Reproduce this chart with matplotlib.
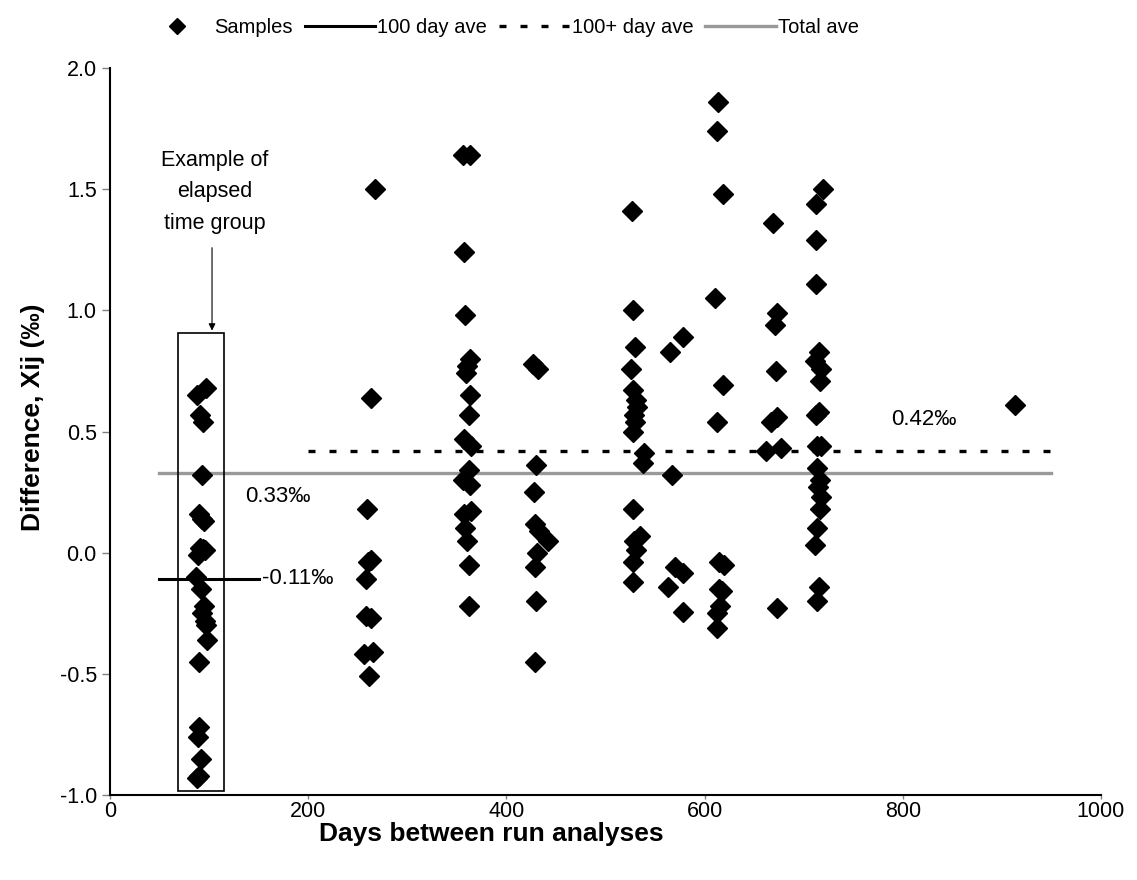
import matplotlib.pyplot as plt
from matplotlib.patches import Rectangle

plt.rcParams['font.family'] = ['Liberation Sans', 'DejaVu Sans']

# Elapsed-time groups (days between runs, difference in permil)
days_100 = [88, 97, 91, 94, 93, 90, 93, 95, 91, 94, 96, 89, 87, 92, 95, 93, 96, 97, 98, 90, 90, 89, 92, 88, 90]
diff_100 = [0.65, 0.68, 0.57, 0.54, 0.32, 0.16, 0.14, 0.13, 0.02, 0.015, 0.01, -0.01, -0.10, -0.15,
            -0.22, -0.25, -0.28, -0.30, -0.36, -0.45, -0.72, -0.76, -0.85, -0.93, -0.92]

days_262 = [267, 263, 259, 263, 260, 258, 258, 263, 265, 256, 261]
diff_262 = [1.50, 0.64, 0.18, -0.03, -0.04, -0.11, -0.26, -0.27, -0.41, -0.42, -0.51]

days_363 = [356, 363, 357, 358, 363, 360, 359, 363, 362, 357, 364, 362, 356, 363, 364, 357, 358, 360, 362, 362]
diff_363 = [1.64, 1.64, 1.24, 0.98, 0.80, 0.77, 0.74, 0.65, 0.57, 0.47, 0.44, 0.34, 0.30, 0.28,
            0.17, 0.16, 0.10, 0.05, -0.05, -0.22]

days_430 = [427, 432, 430, 428, 429, 433, 442, 431, 429, 430, 429]
diff_430 = [0.78, 0.76, 0.36, 0.25, 0.12, 0.09, 0.05, 0.00, -0.06, -0.20, -0.45]

days_528 = [527, 528, 530, 526, 528, 531, 532, 529, 530, 528, 539, 538, 528, 535, 529, 531, 528, 528]
diff_528 = [1.41, 1.00, 0.85, 0.76, 0.67, 0.63, 0.60, 0.57, 0.54, 0.50, 0.41, 0.37, 0.18, 0.07,
            0.05, 0.01, -0.04, -0.12]

days_570 = [578, 565, 567, 570, 578, 563, 578]
diff_570 = [0.89, 0.83, 0.32, -0.06, -0.085, -0.14, -0.245]

days_615 = [614, 613, 619, 611, 619, 613, 615, 620, 615, 618, 616, 613, 613]
diff_615 = [1.86, 1.74, 1.48, 1.05, 0.69, 0.54, -0.04, -0.05, -0.15, -0.16, -0.22, -0.25, -0.31]

days_672 = [669, 673, 671, 672, 673, 667, 677, 662, 673]
diff_672 = [1.36, 0.99, 0.94, 0.75, 0.56, 0.54, 0.43, 0.42, -0.23]

days_715 = [720, 712, 712, 712, 715, 711, 718, 716, 715, 712, 713, 718, 713, 716, 714, 717, 716, 713, 711, 715, 713]
diff_715 = [1.50, 1.44, 1.29, 1.11, 0.83, 0.79, 0.76, 0.71, 0.58, 0.57, 0.44, 0.44, 0.35, 0.30,
            0.27, 0.23, 0.18, 0.10, 0.03, -0.14, -0.20]

days_913 = [913]
diff_913 = [0.61]

days = days_100 + days_262 + days_363 + days_430 + days_528 + days_570 + days_615 + days_672 + days_715 + days_913
diffs = diff_100 + diff_262 + diff_363 + diff_430 + diff_528 + diff_570 + diff_615 + diff_672 + diff_715 + diff_913

# Averages
ave_100 = -0.11
ave_100_span = [50, 150]
ave_100plus = 0.42
ave_100plus_span = [200, 950]
ave_total = 0.33
ave_total_span = [50, 950]

fig = plt.figure(figsize=(11.37, 8.8), dpi=100)
ax = fig.add_axes([0.0967, 0.0966, 0.8716, 0.8261])

ax.plot(days, diffs, linestyle='none', marker='D', markersize=9.8, color='black', label='Samples')
ax.plot(ave_100_span, [ave_100, ave_100], color='black', lw=2.2, label='100 day ave')
ax.plot(ave_100plus_span, [ave_100plus, ave_100plus], color='black', lw=2.4,
        linestyle=(0, (2.1, 4.2)), dash_capstyle='butt', label='100+ day ave')
ax.plot(ave_total_span, [ave_total, ave_total], color='#999999', lw=2.4, label='Total ave', zorder=1)

# Example group box and arrow
ax.add_patch(Rectangle((69, -0.985), 46, 1.89, fill=False, edgecolor='black', lw=1.2))
ax.annotate('', xy=(103, 0.905), xytext=(103, 1.27),
            arrowprops=dict(arrowstyle='-|>', color='black', lw=0.8, mutation_scale=10))
ax.text(106, 1.49, 'Example of\nelapsed\ntime group', ha='center', va='center',
        fontsize=15.5, linespacing=1.65)

ax.text(136, 0.23, '0.33‰', fontsize=16, va='center', ha='left')
ax.text(153, -0.105, '-0.11‰', fontsize=16, va='center', ha='left')
ax.text(788, 0.55, '0.42‰', fontsize=16, va='center', ha='left')

ax.set_xlim(0, 1000)
ax.set_ylim(-1.0, 2.0)
ax.set_xticks(range(0, 1001, 200))
ax.set_yticks([-1.0, -0.5, 0.0, 0.5, 1.0, 1.5, 2.0])
ax.set_yticklabels(['-1.0', '-0.5', '0.0', '0.5', '1.0', '1.5', '2.0'])
ax.tick_params(labelsize=15.5, direction='out', length=6, width=1, colors='#808080', labelcolor='black')
ax.tick_params(axis='x', length=3, pad=1)
ax.spines['top'].set_visible(False)
ax.spines['right'].set_visible(False)
ax.spines['left'].set_linewidth(1.5)
ax.spines['bottom'].set_linewidth(1.5)
ax.set_xlabel('Days between run analyses', fontsize=19, fontweight='bold')
ax.set_ylabel('Difference, Xij (‰)', fontsize=19, fontweight='bold')
ax.xaxis.set_label_coords(0.385, -0.037)
ax.yaxis.set_label_coords(-0.066, 0.52)

fig.legend(loc='upper center', bbox_to_anchor=(0.44, 1.0), ncol=4, frameon=False,
           fontsize=14.5, handlelength=3.5, columnspacing=0.6, handletextpad=0.1, markerscale=0.8)

fig.savefig('out.png', dpi=100)
